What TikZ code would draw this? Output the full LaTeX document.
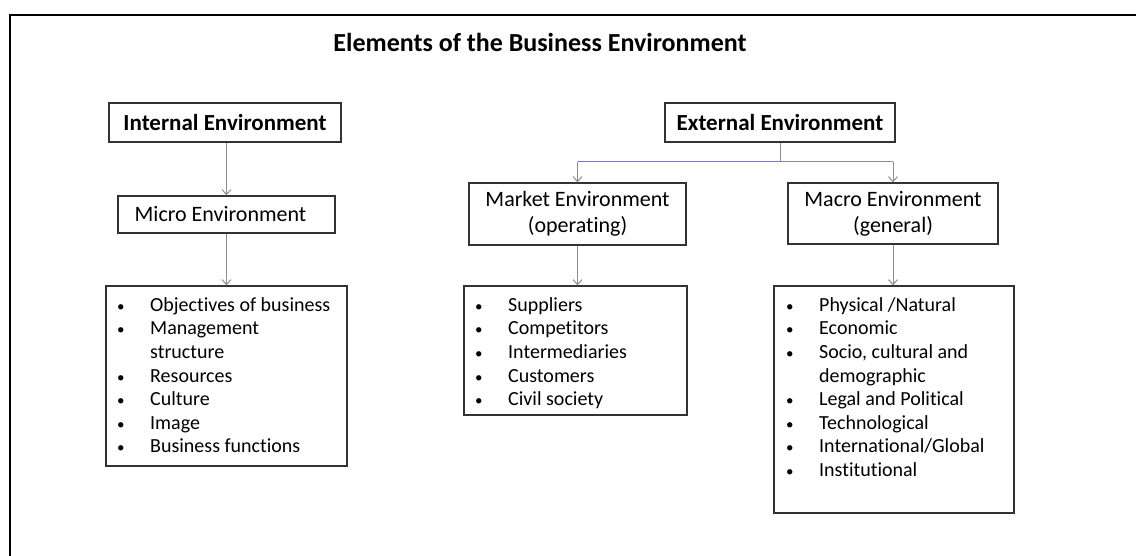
\documentclass[tikz,border=0pt]{standalone}
\usepackage{fontspec}
\setmainfont[Ligatures={NoCommon}]{Carlito}
\usetikzlibrary{arrows.meta}
\newcommand{\smbul}{{\fontsize{15}{15}\selectfont\textbullet}}
\begin{document}
\begin{tikzpicture}[x=1pt,y=-1pt,
 box/.style={draw=black!80, line width=1.3pt, inner sep=0pt, align=center, text=black},
 headb/.style={box, font=\fontsize{23}{27}\selectfont\bfseries},
 headr/.style={box, font=\fontsize{22}{26}\selectfont},
 conn/.style={draw=black!45, line width=1pt},
 blueconn/.style={draw={rgb,255:red,120;green,120;blue,200}, line width=1pt},
 arr/.style={conn, -{Straight Barb[length=5pt,width=9pt]}},
 listtext/.style={inner sep=0pt, anchor=north west, align=left, font=\fontsize{20}{23.6}\selectfont}
]
\useasboundingbox (0,0) rectangle (1136,556);
% frame
\draw[line width=2.2pt] (10,556) -- (10,15) -- (1136,15);

% title
\node[font=\fontsize{26}{30}\selectfont\bfseries] (title) at (540,42) {Elements of the Business Environment};

% left column
\node[headb, minimum width=232pt, minimum height=39pt] (intern) at (225,122.5) {Internal Environment};
\node[headr, minimum width=217pt, minimum height=37pt] (micro) at (226.5,214.5) {Micro Environment\hspace*{12pt}};
\node[box, minimum width=241pt, minimum height=180pt] (mlist) at (226.5,376) {};
\node[listtext] (mtext) at (117,294.5) {%
\begin{tabular}{@{}p{33pt}@{}l@{}}
\smbul & Objectives of business\\
\smbul & Management\\
 & structure\\
\smbul & Resources\\
\smbul & Culture\\
\smbul & Image\\
\smbul & Business functions
\end{tabular}};

% right part
\node[headb, minimum width=230pt, minimum height=39pt] (extern) at (780,122.5) {External Environment};
\node[headr, minimum width=217pt, minimum height=62pt] (market) at (577.5,214) {Market Environment\\(operating)};
\node[headr, minimum width=210pt, minimum height=61pt] (macro) at (893,213.5) {Macro Environment\\(general)};
\node[box, minimum width=223pt, minimum height=129pt] (klist) at (575.5,350.5) {};
\node[listtext] (ktext) at (475,294.5) {%
\begin{tabular}{@{}p{33pt}@{}l@{}}
\smbul & Suppliers\\
\smbul & Competitors\\
\smbul & Intermediaries\\
\smbul & Customers\\
\smbul & Civil society
\end{tabular}};
\node[box, minimum width=240pt, minimum height=227pt] (clist) at (894,399.5) {};
\node[listtext] (ctext) at (786,294.5) {%
\begin{tabular}{@{}p{33pt}@{}l@{}}
\smbul & Physical /Natural\\
\smbul & Economic\\
\smbul & Socio, cultural and\\
 & demographic\\
\smbul & Legal and Political\\
\smbul & Technological\\
\smbul & International/Global\\
\smbul & Institutional
\end{tabular}};

% connectors
\coordinate (junc) at (extern.south |- 0,162);
\coordinate (jl) at (market.north |- junc);
\coordinate (jr) at (macro.north |- junc);
\draw[arr] (intern.south -| micro.north) -- (micro.north);
\draw[arr] (micro.south) -- (mlist.north);
\draw[conn] (extern.south) -- (junc);
\draw[blueconn] (junc) -- (jl);
\draw[conn] (junc) -- (jr);
\draw[arr] (jl) -- (market.north);
\draw[arr] (jr) -- (macro.north);
\draw[arr] (market.south) -- (market.south |- klist.north);
\draw[arr] (macro.south) -- (macro.south |- clist.north);
\end{tikzpicture}
\end{document}
